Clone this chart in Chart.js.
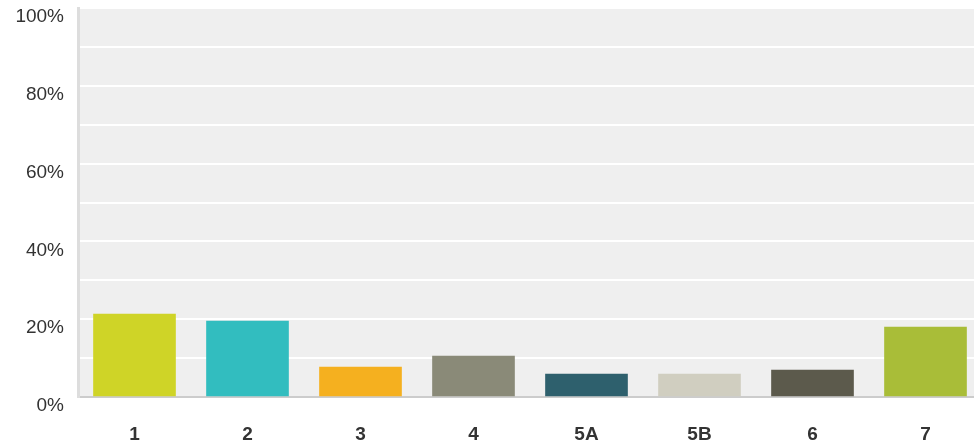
<!DOCTYPE html>
<html>
<head>
<meta charset="utf-8">
<script src="https://cdn.jsdelivr.net/npm/chart.js@4/dist/chart.umd.min.js"></script>
<style>
  html, body { margin: 0; padding: 0; overflow: hidden; background: #fff; }
  #wrap { width: 982px; height: 447px; }
</style>
</head>
<body>
<div id="wrap"><canvas id="answersChart"></canvas></div>
<script>
const categories = ['1', '2', '3', '4', '5A', '5B', '6', '7']
const percents = [21.3, 19.5, 7.7, 10.5, 5.9, 5.9, 6.9, 18.0]
const barColors = ['#cfd427', '#32bdbf', '#f5b01f', '#8a8a78', '#2e606d', '#d0cec0', '#5c5a4c', '#a9bd38']
const yTicks = [0, 20, 40, 60, 80, 100]

// grey background behind the plot area
const plotBg = {
  id: 'plotBg',
  beforeDraw(chart) {
    const { ctx, chartArea } = chart
    ctx.save()
    ctx.fillStyle = '#efefef'
    ctx.fillRect(chartArea.left, chartArea.top, chartArea.right - chartArea.left, chartArea.bottom - chartArea.top)
    ctx.restore()
  }
}

const ctx = document.getElementById('answersChart')

new Chart(ctx, {
  type: 'bar',
  data: {
    labels: categories,
    datasets: [{
      data: percents,
      backgroundColor: barColors,
      barThickness: 82
    }]
  },
  plugins: [plotBg],
  options: {
    responsive: true,
    maintainAspectRatio: false,
    animation: false,
    layout: { padding: { top: 8 } },
    plugins: {
      legend: { display: false },
      tooltip: { enabled: false }
    },
    scales: {
      x: {
        grid: { display: false, drawTicks: false },
        border: { color: '#cccccc', width: 2 },
        ticks: {
          color: '#333333',
          padding: 26,
          font: { family: 'Liberation Sans, Arial, sans-serif', size: 19, weight: 'bold' }
        },
        afterFit(scale) {
          scale.height = 50
          scale.paddingLeft = 0
          scale.paddingRight = 0
        }
      },
      y: {
        min: 0,
        max: 100,
        grid: { color: '#ffffff', lineWidth: 2, drawTicks: false },
        border: { color: '#dddddd', width: 3 },
        ticks: {
          stepSize: 10,
          color: '#333333',
          padding: 14,
          labelOffset: 9,
          font: { family: 'Liberation Sans, Arial, sans-serif', size: 19 },
          callback: (v) => yTicks.includes(v) ? v + '%' : ''
        },
        afterFit(scale) {
          scale.width = 78
          scale.paddingTop = 0
          scale.paddingBottom = 0
        }
      }
    }
  }
})
</script>
</body>
</html>
